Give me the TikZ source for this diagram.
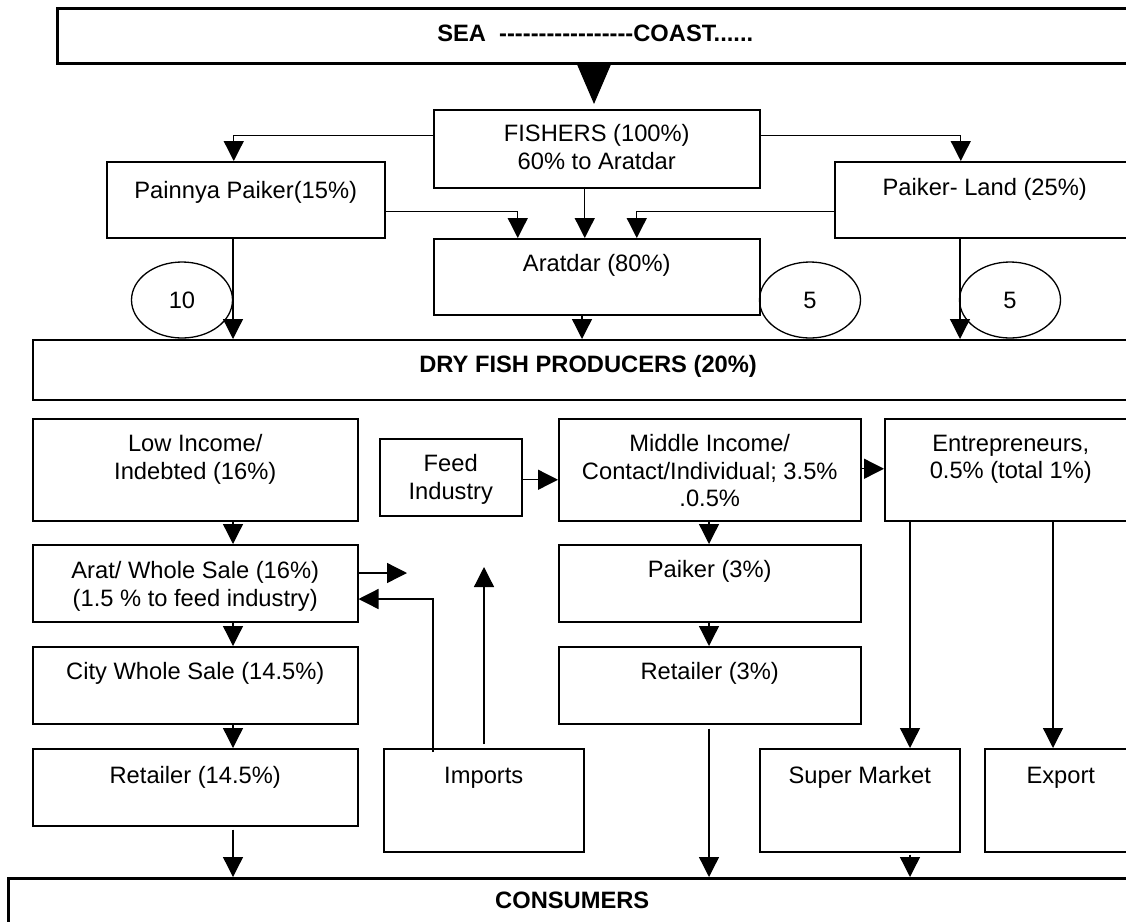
\documentclass[tikz,border=0pt]{standalone}
\usepackage{fontspec}
\setmainfont{Liberation Sans}[Ligatures=TeXOff]
\usetikzlibrary{arrows.meta,shapes.geometric}
\newcommand\regfont{\fontsize{23.7}{27.5}\selectfont}
\newcommand\ttlfont{\fontsize{23.7}{28}\selectfont\bfseries}

\begin{document}
\begin{tikzpicture}[x=1pt,y=-1pt,
  box/.style={draw, line width=1.5pt, anchor=north west, inner sep=0pt},
  ttlbox/.style={draw, line width=2.5pt, anchor=north west, inner sep=0pt},
  txt/.style={font=\regfont, align=center, inner sep=0pt},
  ttl/.style={font=\ttlfont, inner sep=0pt, anchor=base},
  oval/.style={draw, ellipse, line width=1.3pt, minimum width=101pt, minimum height=76pt, inner sep=0pt, font=\regfont},
  arr/.style={line width=1.3pt, -{Triangle[length=20pt,width=20pt]}},
  bigarr/.style={line width=1.3pt, -{Triangle[length=40pt,width=34pt]}}]
\useasboundingbox (0,0) rectangle (1126,921);
\clip (0,0) rectangle (1126,921);

% ---- boxes ----
\node[ttlbox, minimum width=1076pt, minimum height=55pt] (sea) at (56,7) {};
\node[box, minimum width=326pt, minimum height=78pt] (fishers) at (433,109) {};
\node[box, minimum width=278pt, minimum height=76pt] (painnya) at (106,161) {};
\node[box, minimum width=300pt, minimum height=76pt] (paikerland) at (834,161) {};
\node[box, minimum width=326pt, minimum height=76pt] (aratdar) at (433,238) {};
\node[ttlbox, line width=2.2pt, minimum width=1110pt, minimum height=60pt] (dry) at (32,339) {};
\node[box, minimum width=325pt, minimum height=102pt] (lowinc) at (32,418) {};
\node[box, minimum width=142pt, minimum height=77pt] (feed) at (379,438) {};
\node[box, minimum width=302pt, minimum height=102pt] (middle) at (558,418) {};
\node[box, minimum width=252pt, minimum height=102pt] (entre) at (884,418) {};
\node[box, minimum width=325pt, minimum height=77pt] (arat) at (32,544) {};
\node[box, minimum width=302pt, minimum height=77pt] (paiker3) at (558,544) {};
\node[box, minimum width=325pt, minimum height=77pt] (city) at (32,646) {};
\node[box, minimum width=302pt, minimum height=77pt] (retail3) at (558,646) {};
\node[box, minimum width=325pt, minimum height=77pt] (retail) at (32,748) {};
\node[box, minimum width=200pt, minimum height=103pt] (imports) at (383,748) {};
\node[box, minimum width=200pt, minimum height=103pt] (super) at (759,748) {};
\node[box, minimum width=152pt, minimum height=103pt] (export) at (984,748) {};
\node[ttlbox, minimum width=1128pt, minimum height=70pt] (consumers) at (7,877) {};

% ---- box texts ----
\node[ttl] (sea-t) at (sea.center |- 0,41) {SEA~~-----------------COAST......};
\node[txt, anchor=north] (fishers-t) at (fishers.center |- 0,124.5) {FISHERS (100\%)\\60\% to Aratdar};
\node[txt, anchor=base] (painnya-t) at (painnya.center |- 0,198) {Painnya Paiker(15\%)};
\node[txt, anchor=base] (paikerland-t) at (paikerland.center |- 0,195) {Paiker- Land (25\%)};
\node[txt, anchor=base] (aratdar-t) at (aratdar.center |- 0,271) {Aratdar (80\%)};
\node[ttl] (dry-t) at (dry.center |- 0,372) {DRY FISH PRODUCERS (20\%)};
\node[txt, anchor=north] (lowinc-t) at (lowinc.center |- 0,434.5) {Low Income/\\Indebted (16\%)};
\node[txt, anchor=north] (feed-t) at (feed.center |- 0,454.5) {Feed\\Industry};
\node[txt, anchor=north] (middle-t) at (middle.center |- 0,434.5) {Middle Income/\\Contact/Individual; 3.5\%\\.0.5\%};
\node[txt, anchor=north] (entre-t) at (entre.center |- 0,434.5) {Entrepreneurs,\\0.5\% (total 1\%)};
\node[txt, anchor=north] (arat-t) at (arat.center |- 0,561.5) {Arat/ Whole Sale (16\%)\\(1.5 \% to feed industry)};
\node[txt, anchor=base] (paiker3-t) at (paiker3.center |- 0,577) {Paiker (3\%)};
\node[txt, anchor=base] (city-t) at (city.center |- 0,679) {City Whole Sale (14.5\%)};
\node[txt, anchor=base] (retail3-t) at (retail3.center |- 0,679) {Retailer (3\%)};
\node[txt, anchor=base] (retail-t) at (retail.center |- 0,783) {Retailer (14.5\%)};
\node[txt, anchor=base] (imports-t) at (imports.center |- 0,783) {Imports};
\node[txt, anchor=base] (super-t) at (super.center |- 0,783) {Super Market};
\node[txt, anchor=base] (export-t) at (export.center |- 0,783) {Export};
\node[ttl] (consumers-t) at (consumers.center |- 0,908) {CONSUMERS};

% ---- share ovals ----
\node[oval] (o10) at (182,300) {10};
\node[oval] (o5a) at (810,300) {5};
\node[oval] (o5b) at (1010,300) {5};

% ---- columns and free ends of connectors ----
\coordinate (xS) at (594,0);
\coordinate (xA) at (233,0);
\coordinate (xB) at (582,0);
\coordinate (xC) at (960,0);
\coordinate (xD) at (709,0);
\coordinate (xE) at (910,0);
\coordinate (xF) at (1053,0);
\coordinate (xG) at (433,0);
\coordinate (xH) at (484,0);
\coordinate (stub) at (407,573);
\coordinate (turn) at (433,599);
\coordinate (up) at (484,567);

% ---- connectors ----
\draw[bigarr] (xS |- sea.south) -- ([yshift=5pt]xS |- fishers.north);
\draw[arr] ([yshift=13pt]fishers.west) -| ([xshift=-12pt]painnya.north);
\draw[arr] ([yshift=13pt]fishers.east) -| ([xshift=-24pt]paikerland.north);
\draw[arr] ([xshift=-12pt]fishers.south) -- ([xshift=-12pt]aratdar.north);
\draw[arr] ([yshift=-12pt]painnya.east) -| ([xshift=-79pt]aratdar.north);
\draw[arr] ([yshift=-12pt]paikerland.west) -| ([xshift=40pt]aratdar.north);
\draw[arr] (xA |- painnya.south) -- (xA |- dry.north);
\draw[arr] (xB |- aratdar.south) -- (xB |- dry.north);
\draw[arr] (xC |- paikerland.south) -- (xC |- dry.north);

\draw[arr] (xA |- lowinc.south) -- (xA |- arat.north);
\draw[arr] (xA |- arat.south) -- (xA |- city.north);
\draw[arr] (xA |- city.south) -- (xA |- retail.north);
\draw[arr] ([yshift=-3pt]xA |- retail.south) -- (xA |- consumers.north);
\draw[arr] (arat.east |- stub) -- (stub);
\draw[arr] ([yshift=-4pt]xG |- imports.north) -- (turn) -- (arat.east |- turn);
\draw[arr] ([yshift=4pt]xH |- imports.north) -- (up);
\draw[arr] ([yshift=-2.5pt]feed.east) -- ([yshift=-2.5pt]feed.east -| middle.west);
\draw[arr] ([yshift=1pt]middle.east) -- ([yshift=1pt]middle.east -| entre.west);
\draw[arr] (xD |- middle.south) -- (xD |- paiker3.north);
\draw[arr] (xD |- paiker3.south) -- (xD |- retail3.north);
\draw[arr] ([yshift=-4pt]xD |- retail3.south) -- (xD |- consumers.north);
\draw[arr] (xE |- entre.south) -- (xE |- super.north);
\draw[arr] (xF |- entre.south) -- (xF |- export.north);
\draw[arr] ([yshift=-2pt]xE |- super.south) -- (xE |- consumers.north);
\end{tikzpicture}
\end{document}
